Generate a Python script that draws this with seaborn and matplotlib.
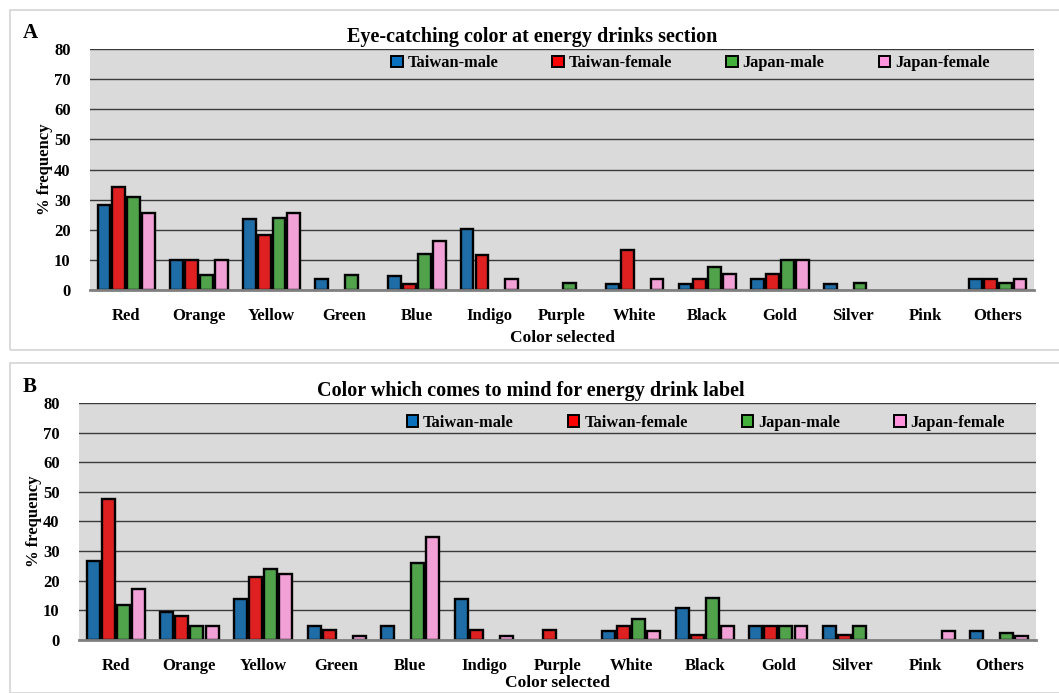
import matplotlib
matplotlib.use('Agg')
import matplotlib.pyplot as plt
import matplotlib.patches as mpatches
import seaborn as sns
import numpy as np
import pandas as pd

colors_selected = ['Red', 'Orange', 'Yellow', 'Green', 'Blue', 'Indigo', 'Purple',
                   'White', 'Black', 'Gold', 'Silver', 'Pink', 'Others']
groups = ['Taiwan-male', 'Taiwan-female', 'Japan-male', 'Japan-female']

# Panel A: eye-catching color at energy drinks section (% frequency)
a_taiwan_male = [28.3, 9.8, 23.7, 3.5, 4.8, 20.4, 0, 1.9, 1.9, 3.5, 1.9, 0, 3.5]
a_taiwan_female = [34.3, 9.8, 18.2, 0, 1.9, 11.6, 0, 13.3, 3.5, 5.2, 0, 0, 3.5]
a_japan_male = [31.0, 5.0, 23.9, 5.0, 12.0, 0, 2.4, 0, 7.5, 9.8, 2.4, 0, 2.4]
a_japan_female = [25.7, 9.8, 25.7, 0, 16.3, 3.5, 0, 3.5, 5.2, 9.8, 0, 0, 3.5]

# Panel B: color which comes to mind for energy drink label (% frequency)
b_taiwan_male = [26.5, 9.4, 13.9, 4.6, 4.6, 13.9, 0, 2.9, 10.8, 4.6, 4.6, 0, 2.9]
b_taiwan_female = [47.7, 8.0, 21.2, 3.4, 0, 3.4, 3.4, 4.6, 1.6, 4.6, 1.6, 0, 0]
b_japan_male = [11.8, 4.6, 23.8, 0, 26.1, 0, 0, 7.0, 14.2, 4.6, 4.6, 0, 2.3]
b_japan_female = [17.1, 4.6, 22.2, 1.4, 34.7, 1.4, 0, 2.9, 4.6, 4.6, 0, 2.9, 1.4]

palette = ['#0870bd', '#ff0000', '#43b03c', '#ff94dc']
serif = ['Liberation Serif', 'DejaVu Serif']


def long_table(series):
    rows = []
    for g, vals in zip(groups, series):
        for c, v in zip(colors_selected, vals):
            rows.append({'color': c, 'group': g, 'pct': v})
    return pd.DataFrame(rows)


def draw_panel(ax, df, title, title_x, leg_anchor, xlabelpad):
    ax.set_facecolor('#dadada')
    sns.barplot(data=df, x='color', y='pct', hue='group', order=colors_selected,
                hue_order=groups, palette=palette, width=0.82, gap=0.14,
                edgecolor='black', linewidth=1.7, ax=ax, legend=False, zorder=3)
    # zero-height bars are not shown in the original
    for p in ax.patches:
        if p.get_height() == 0:
            p.set_visible(False)
    ax.set_ylim(0, 80)
    ax.set_xlim(-0.5, len(colors_selected) - 0.5)
    ax.set_yticks(range(0, 81, 10))
    ax.yaxis.grid(True, color='#3a3a3a', linewidth=1.0, zorder=0)
    ax.set_axisbelow(True)
    for s in ['top', 'right', 'left']:
        ax.spines[s].set_visible(False)
    ax.spines['bottom'].set_color('#808080')
    ax.spines['bottom'].set_linewidth(2)
    ax.spines['bottom'].set_zorder(4)
    ax.tick_params(axis='both', length=0)
    ax.tick_params(axis='x', pad=13)
    ax.tick_params(axis='y', pad=14)
    for lab in ax.get_xticklabels():
        lab.set_fontfamily(serif)
        lab.set_fontweight('bold')
        lab.set_fontsize(12)
    for lab in ax.get_yticklabels():
        lab.set_fontfamily(serif)
        lab.set_fontweight('bold')
        lab.set_fontsize(12)
    ax.set_xlabel('Color selected', fontfamily=serif, fontweight='bold',
                  fontsize=12.5, labelpad=xlabelpad)
    ax.set_ylabel('% frequency', fontfamily=serif, fontweight='bold',
                  fontsize=12, labelpad=1)
    ax.set_title(title, fontfamily=serif, fontweight='bold', fontsize=14.5, pad=5,
                 x=title_x)
    handles = [mpatches.Patch(facecolor=c, edgecolor='black', linewidth=1.4, label=g)
               for c, g in zip(palette, groups)]
    ax.legend(handles=handles, loc='center', bbox_to_anchor=leg_anchor,
              ncol=4, frameon=False, handlelength=0.7, handleheight=0.7,
              handletextpad=0.3, columnspacing=3.3,
              prop={'family': serif, 'weight': 'bold', 'size': 11.8})


fig = plt.figure(figsize=(10.59, 6.93), dpi=100)

# light panel frames
for y0, h in [(1 - 350 / 693, 340 / 693), (0.0, 330 / 693)]:
    fig.patches.append(mpatches.Rectangle((10 / 1059, y0), 1.1, h, transform=fig.transFigure,
                                          fill=False, edgecolor='#d4d4d4', linewidth=1.2))

ax1 = fig.add_axes([0.085, 0.5815, 0.8914, 0.3478])
ax2 = fig.add_axes([0.0746, 0.0765, 0.9037, 0.342])

df_a = long_table([a_taiwan_male, a_taiwan_female, a_japan_male, a_japan_female])
df_b = long_table([b_taiwan_male, b_taiwan_female, b_japan_male, b_japan_female])

draw_panel(ax1, df_a, 'Eye-catching color at energy drinks section', 0.468,
           (0.636, 0.94), 4)
draw_panel(ax2, df_b, 'Color which comes to mind for energy drink label', 0.472,
           (0.655, 0.916), 1)

fig.text(23 / 1059, 1 - 33 / 693, 'A', fontfamily=serif, fontweight='bold',
         fontsize=15, ha='left', va='center')
fig.text(23 / 1059, 1 - 387 / 693, 'B', fontfamily=serif, fontweight='bold',
         fontsize=15, ha='left', va='center')

fig.savefig('out.png', dpi=100)
